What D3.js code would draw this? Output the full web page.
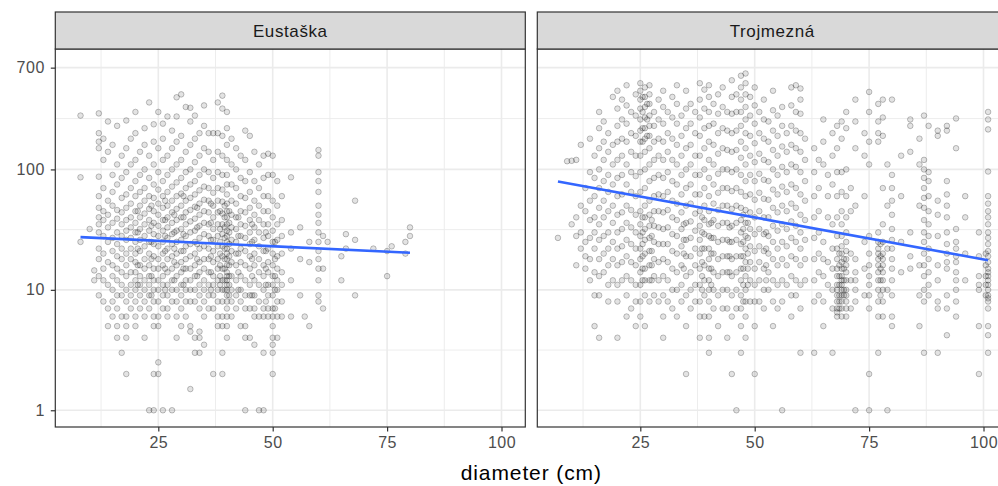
<!DOCTYPE html>
<html>
<head>
<meta charset="utf-8">
<script src="https://cdn.jsdelivr.net/npm/d3@7"></script>
<style>
  html, body { margin: 0; padding: 0; background: #ffffff; overflow: hidden; }
  svg { display: block; font-family: "Liberation Sans", Arial, sans-serif; }
</style>
</head>
<body>
<svg id="chart" width="998" height="486"></svg>
<script>
// ---------- DATA ----------
const panelNames = ["Eustaška", "Trojmezná"];
const xTickValues = [25, 50, 75, 100];
const yTickValues = [1, 10, 100, 700];
const xAxisTitle = "diameter (cm)";

// Eustaška: [diameter, [values...]]
const eustaskaCols = [
  [8, [280, 86, 25]],
  [10, [32]],
  [11, [14.5, 12]],
  [12, [292, 200, 170, 150, 87, 60, 48, 40, 35, 30, 22, 18, 13, 9]],
  [13, [180, 120, 70, 45, 38, 28, 20, 15, 12, 8]],
  [14, [250, 140, 55, 42, 33, 25, 17, 11, 7, 5]],
  [15, [160, 90, 65, 50, 36, 27, 21, 16, 13, 10, 8, 6]],
  [16, [230, 110, 75, 46, 39, 30, 24, 19, 15, 12, 9, 7, 4, 5]],
  [17, [130, 85, 58, 44, 35, 28, 22, 18, 14, 11, 9, 3, 6]],
  [18, [255, 150, 95, 62, 48, 38, 31, 26, 20, 16, 13, 10, 8, 6, 5, 4, 2]],
  [19, [180, 110, 70, 52, 40, 33, 27, 22, 18, 14, 11, 9, 7]],
  [20, [300, 200, 120, 80, 60, 45, 36, 30, 25, 20, 17, 14, 12, 10, 8, 6, 5]],
  [20.5, [45, 30, 22, 16, 11]],
  [21, [140, 90, 65, 50, 40, 32, 26, 21, 16, 13, 11, 9, 7]],
  [22, [220, 160, 100, 70, 55, 43, 35, 28, 23, 18, 15, 12, 10, 8, 4, 6]],
  [23, [360, 130, 85, 60, 47, 38, 31, 25, 20, 16, 13, 11, 9, 7, 1]],
  [23.5, [50, 34, 25, 18, 13, 9]],
  [24, [237, 170, 110, 75, 58, 45, 36, 29, 24, 19, 15, 12, 10, 8, 6, 5, 2, 1]],
  [25, [300, 150, 95, 68, 52, 42, 34, 28, 23, 18, 15, 12, 10, 8, 6, 5, 2.5, 2]],
  [26, [240, 180, 120, 80, 60, 48, 38, 31, 25, 20, 16, 13, 11, 9, 7, 1]],
  [26.5, [55, 38, 28, 21, 15, 10]],
  [27, [275, 130, 90, 65, 50, 40, 33, 27, 22, 18, 14, 11, 9, 7, 6]],
  [28, [210, 150, 100, 72, 55, 44, 36, 29, 24, 19, 15, 12, 10, 8, 1]],
  [28.5, [42, 30, 22, 17, 12]],
  [29, [397, 275, 170, 110, 78, 60, 47, 38, 31, 25, 20, 16, 13, 10, 8, 6, 4]],
  [30, [420, 190, 120, 85, 63, 50, 40, 32, 26, 21, 17, 14, 11, 9, 7, 5]],
  [30.5, [60, 40, 29, 21, 15, 11]],
  [31, [330, 140, 95, 70, 55, 44, 35, 28, 23, 18, 15, 12, 10, 8, 6]],
  [32, [325, 250, 160, 100, 75, 58, 46, 37, 30, 24, 19, 15, 12, 10, 8, 5, 4.5, 1.5]],
  [33, [280, 180, 115, 80, 62, 49, 39, 31, 25, 20, 16, 13, 10, 8, 4, 3]],
  [33.5, [48, 33, 24, 18, 13]],
  [34, [200, 130, 90, 67, 52, 42, 34, 27, 22, 17, 14, 11, 9, 7, 4, 4.5, 3]],
  [35, [340, 230, 150, 100, 72, 56, 45, 36, 29, 23, 18, 15, 12, 10, 8, 6, 3.5]],
  [36, [200, 140, 95, 70, 55, 44, 35, 28, 22, 18, 14, 11, 9, 7]],
  [36.5, [52, 36, 26, 19, 14, 10]],
  [37, [200, 120, 85, 64, 50, 40, 32, 26, 21, 17, 13, 11, 9, 7, 2]],
  [38, [360, 200, 140, 95, 70, 55, 44, 35, 28, 23, 18, 15, 12, 10, 8, 6, 5]],
  [38.5, [45, 32, 25, 20, 16, 13, 11]],
  [39, [410, 320, 190, 130, 90, 68, 54, 43, 35, 29, 23, 19, 15, 12, 10, 8, 6, 5, 3, 2]],
  [39.5, [50, 40, 33, 27, 22, 18, 15, 12, 10]],
  [40, [300, 220, 160, 120, 90, 75, 62, 52, 45, 40, 35, 31, 28, 25, 22, 20, 18, 16, 14, 13, 12, 11, 10, 9, 8, 7, 6, 5, 4]],
  [40.5, [45, 36, 30, 24, 19, 16, 13, 11, 9]],
  [41, [180, 110, 75, 55, 42, 33, 26, 21, 17, 13, 10, 8, 6]],
  [42, [150, 100, 70, 52, 40, 32, 25, 20, 16, 12, 9, 7]],
  [42.5, [40, 28, 20, 14, 10]],
  [43, [130, 85, 60, 45, 35, 28, 22, 17, 13, 10, 8, 5]],
  [44, [210, 120, 80, 58, 44, 34, 27, 21, 16, 12, 9, 7, 5, 4, 1]],
  [45, [190, 95, 65, 48, 38, 30, 24, 19, 15, 11, 9, 7, 4]],
  [45.5, [35, 25, 18, 13, 9]],
  [46, [140, 80, 55, 42, 33, 26, 20, 16, 12, 9, 7, 6, 3.5]],
  [47, [110, 70, 50, 38, 30, 23, 18, 14, 11, 8, 6, 1]],
  [48, [130, 85, 60, 45, 35, 27, 21, 16, 13, 10, 7, 6, 3, 1]],
  [48.5, [30, 21, 15, 11, 8]],
  [49, [135, 90, 60, 45, 35, 28, 22, 17, 14, 11, 9, 7, 6]],
  [50, [130, 90, 55, 40, 31, 25, 20, 16, 13, 11, 9, 7, 6, 5, 3.5, 3, 2, 4]],
  [50.5, [25, 18, 13, 10, 7]],
  [51, [80, 50, 35, 26, 19, 15, 12, 10, 8, 6, 4]],
  [52, [60, 38, 28, 20, 14, 11, 8, 6]],
  [54, [86, 30, 22, 12, 6]],
  [56, [33, 18, 9]],
  [57, [6]],
  [58, [25, 17, 5]],
  [60, [145, 130, 95, 80, 65, 50, 42, 36, 30, 25, 21, 18, 15, 12, 9, 8]],
  [61, [28, 15, 7]],
  [62, [25]],
  [65, [19, 12]],
  [66, [29, 22]],
  [68, [55, 26, 9]],
  [72, [22]],
  [75, [21, 13]],
  [76, [23]],
  [79, [25, 20]],
  [80, [33, 28]]
];

// Trojmezná: [diameter, [values...]]
const trojmeznaCols = [
  [7, [27]],
  [9, [117]],
  [10, [118, 35]],
  [11, [120, 40, 28, 16]],
  [12, [160, 50, 30, 22]],
  [13, [70, 45, 25, 19, 15]],
  [14, [180, 95, 55, 38, 27, 18, 12]],
  [15, [130, 85, 60, 40, 30, 22, 14, 9, 5]],
  [16, [300, 220, 150, 100, 70, 48, 35, 26, 18, 13, 9, 4]],
  [17, [250, 170, 120, 80, 55, 40, 28, 20, 14]],
  [18, [200, 140, 90, 65, 45, 30, 22, 16, 11, 8]],
  [19, [400, 160, 110, 75, 50, 36, 25, 18, 12]],
  [20, [450, 320, 230, 170, 120, 85, 60, 42, 30, 22, 16, 11, 8, 4]],
  [21, [380, 260, 180, 130, 90, 62, 44, 32, 23, 17, 12]],
  [22, [500, 340, 240, 170, 110, 75, 50, 36, 26, 19, 13, 9, 6]],
  [23, [300, 200, 140, 95, 65, 46, 33, 24, 17, 12, 7]],
  [24, [420, 280, 190, 130, 88, 60, 42, 30, 22, 16, 11, 8, 5]],
  [25, [520, 450, 380, 320, 260, 210, 170, 130, 95, 65, 45, 35, 28, 22, 18, 14, 11, 8, 6]],
  [25.5, [400, 300, 220, 170, 40, 30, 24, 19, 15, 12]],
  [26, [480, 400, 330, 270, 220, 180, 140, 100, 70, 50, 40, 32, 26, 20, 15, 12, 9, 5]],
  [26.5, [350, 260, 190]],
  [27, [500, 420, 350, 280, 230, 190, 150, 110, 80, 55, 42, 34, 27, 21, 16, 12, 8]],
  [27.5, [38, 28, 21, 16, 12]],
  [28, [300, 230, 170, 120, 85, 60, 45, 34, 25, 18, 13, 9]],
  [29, [380, 260, 180, 130, 90, 62, 45, 33, 24, 17, 12, 8]],
  [30, [450, 330, 240, 170, 120, 85, 60, 44, 32, 24, 18, 13, 9, 6, 4]],
  [31, [300, 200, 140, 95, 65, 46, 33, 24, 17, 12, 8]],
  [32, [400, 270, 180, 120, 80, 55, 40, 29, 21, 15, 10, 7]],
  [33, [500, 350, 240, 160, 110, 75, 52, 38, 28, 20, 14, 10, 6]],
  [34, [280, 190, 130, 90, 62, 44, 32, 23, 16, 11, 8]],
  [34.5, [35, 26, 20, 15]],
  [35, [450, 320, 220, 150, 100, 70, 50, 36, 26, 19, 13, 9, 5, 2]],
  [36, [350, 240, 160, 110, 75, 52, 37, 27, 19, 14, 10, 7]],
  [37, [300, 200, 130, 90, 62, 43, 31, 22, 16, 11, 8]],
  [38, [520, 380, 270, 190, 130, 90, 62, 45, 34, 26, 20, 15, 11, 8, 6, 4]],
  [38.5, [40, 30, 22, 17, 13, 10]],
  [39, [460, 320, 220, 150, 100, 70, 50, 38, 29, 22, 16, 12, 9, 6]],
  [40, [500, 400, 300, 230, 170, 120, 85, 60, 45, 35, 28, 22, 18, 15, 12, 10, 8, 6, 4, 3]],
  [40.5, [36, 27, 20, 15, 11]],
  [41, [350, 240, 160, 110, 75, 52, 38, 27, 20, 14, 10, 7]],
  [42, [420, 290, 200, 135, 92, 64, 46, 34, 25, 18, 13, 9, 5]],
  [43, [480, 330, 220, 150, 100, 70, 50, 36, 26, 19, 14, 10, 7]],
  [44, [300, 210, 145, 100, 70, 50, 36, 26, 19, 14, 10, 7, 4]],
  [44.5, [33, 25, 19, 14]],
  [45, [550, 400, 290, 200, 140, 95, 66, 47, 34, 25, 18, 13, 9, 6, 2]],
  [46, [420, 300, 210, 145, 100, 70, 50, 36, 26, 19, 14, 10, 7, 1]],
  [47, [600, 480, 380, 300, 230, 170, 125, 90, 65, 48, 38, 30, 24, 19, 15, 12, 9, 7, 5, 3]],
  [47.5, [42, 32, 25, 19, 15, 11, 8]],
  [48, [626, 520, 420, 330, 260, 200, 150, 110, 80, 60, 46, 36, 28, 22, 17, 13, 10, 8, 6, 4]],
  [48.5, [36, 27, 20, 15, 11]],
  [49, [400, 280, 190, 130, 90, 62, 44, 32, 23, 17, 12, 8]],
  [50, [480, 340, 240, 165, 115, 80, 56, 40, 29, 21, 15, 11, 8, 5, 2]],
  [51, [300, 200, 135, 92, 64, 45, 32, 23, 17, 12, 8]],
  [52, [380, 260, 180, 120, 82, 57, 40, 29, 21, 15, 10, 7]],
  [52.5, [30, 22, 16, 12]],
  [53, [250, 170, 115, 80, 56, 40, 28, 20, 14, 10]],
  [54, [450, 310, 210, 145, 100, 68, 48, 34, 25, 18, 12, 8, 5]],
  [55, [280, 190, 130, 90, 62, 44, 31, 22, 16, 11, 7]],
  [56, [330, 230, 155, 105, 72, 50, 35, 25, 18, 12, 8, 1]],
  [57, [200, 140, 95, 65, 45, 32, 23, 16, 11]],
  [58, [480, 340, 230, 160, 110, 75, 52, 37, 27, 19, 13, 9, 6]],
  [59, [500, 300, 210, 150, 105, 70, 48, 34, 25, 18, 12, 9]],
  [60, [470, 380, 290, 200, 140, 95, 62, 42, 30, 22, 16, 11, 7, 3]],
  [61, [180, 120, 80, 55, 38, 26, 18, 12]],
  [63, [150, 95, 60, 40, 27, 18, 12, 8, 3]],
  [64, [120, 70, 45, 30, 20, 14, 9]],
  [65, [260, 170, 110, 25, 18, 13, 8, 5]],
  [66, [90, 60, 40, 17, 11]],
  [67, [200, 130, 75, 35, 22, 15, 10, 7, 3]],
  [68, [230, 150, 95, 60, 40, 28, 22, 18, 15, 13, 11, 10, 9, 8, 7, 6.5, 6]],
  [68.5, [20, 16, 13, 11, 9, 8, 7]],
  [69, [250, 180, 95, 65, 45, 35, 28, 23, 20, 17, 15, 13, 12, 11, 10, 9, 8, 7, 6]],
  [69.5, [18, 15, 12, 10, 9]],
  [70, [300, 220, 100, 60, 40, 30, 25, 21, 18, 16, 14, 12, 10, 9, 8, 7, 6]],
  [71, [70, 45, 20, 12, 7]],
  [72, [380, 250, 150, 50, 18, 14, 12, 10, 8, 1]],
  [74, [200, 130, 60, 25, 15, 9]],
  [75, [440, 300, 170, 110, 28, 20, 16, 13, 11, 9, 7, 2, 1]],
  [77, [350, 250, 200, 170, 30, 25, 22, 20, 18, 16, 14, 12, 10, 8, 6, 3]],
  [77.5, [24, 19, 15, 12, 9]],
  [78, [380, 270, 190, 70, 35, 25, 20, 18, 16, 14, 12, 10, 8, 6]],
  [79, [110, 50, 22, 10, 1]],
  [80, [380, 90, 70, 55, 42, 32, 26, 22, 18, 15, 12, 9, 6, 5]],
  [82, [130, 60, 25, 14]],
  [84, [260, 230, 140, 30, 19, 15]],
  [86, [180, 110, 50, 16, 9, 5]],
  [87, [280, 120, 100, 85, 70, 58, 48, 38, 30, 25, 20, 16, 13, 10, 8, 3]],
  [88, [230, 95, 80, 60, 45, 35, 28, 22, 18, 14, 11, 9]],
  [90, [210, 190, 55, 42, 28, 16, 12, 8, 7, 3]],
  [92, [230, 210, 80, 62, 50, 40, 30, 24, 20, 17, 15, 9, 7, 4.2]],
  [94, [265, 150, 32, 25, 22, 19, 17, 14, 12, 10, 8, 6]],
  [96, [60, 40, 20, 12]],
  [99, [30, 19, 13, 11, 10, 5, 2]],
  [100.5, [20, 16, 13, 11, 9]],
  [101, [300, 260, 215, 96, 60, 52, 45, 40, 35, 30, 27, 24, 21, 19, 17, 15, 14, 13, 12, 11, 10, 9, 8.5, 8, 7, 5, 4.2, 3]]
];

// Fitted (lm on log scale) line end points
const eustaskaFit = [[8, 27.4], [80, 20.3]];
const trojmeznaFit = [[7, 79.5], [101, 17.6]];

// ---------- LAYOUT ----------
const svg = d3.select("#chart");
const panelW = 470;
const panelLefts = [55.3, 537.3];
const panelTop = 49, panelBottom = 427;
const stripTop = 12;

const xDomain = [2.49, 105.2];
const yDomain = [Math.pow(10, -0.139), Math.pow(10, 3.0)];

const panelsData = [
  { name: panelNames[0], cols: eustaskaCols, fit: eustaskaFit },
  { name: panelNames[1], cols: trojmeznaCols, fit: trojmeznaFit }
];

const y = d3.scaleLog().domain(yDomain).range([panelBottom, panelTop]);
const yMinor = [0.5, 1.5, (2 + Math.log10(700)) / 2].map(v => Math.pow(10, v));
const xMinor = [12.5, 37.5, 62.5, 87.5];

const defs = svg.append("defs");

panelsData.forEach((p, i) => {
  const left = panelLefts[i];
  const x = d3.scaleLinear().domain(xDomain).range([left, left + panelW]);
  const g = svg.append("g");

  defs.append("clipPath").attr("id", "clip" + i)
    .append("rect").attr("x", left).attr("y", panelTop).attr("width", panelW).attr("height", panelBottom - panelTop);

  g.append("rect").attr("x", left).attr("y", panelTop).attr("width", panelW)
    .attr("height", panelBottom - panelTop).attr("fill", "#ffffff");

  const grid = g.append("g").attr("clip-path", `url(#clip${i})`);
  grid.selectAll(".ymin").data(yMinor).enter().append("line")
    .attr("x1", left).attr("x2", left + panelW)
    .attr("y1", d => y(d)).attr("y2", d => y(d))
    .attr("stroke", "#EBEBEB").attr("stroke-width", 0.9);
  grid.selectAll(".xmin").data(xMinor).enter().append("line")
    .attr("y1", panelTop).attr("y2", panelBottom)
    .attr("x1", d => x(d)).attr("x2", d => x(d))
    .attr("stroke", "#EBEBEB").attr("stroke-width", 0.9);
  grid.selectAll(".ymaj").data(yTickValues).enter().append("line")
    .attr("x1", left).attr("x2", left + panelW)
    .attr("y1", d => y(d)).attr("y2", d => y(d))
    .attr("stroke", "#EBEBEB").attr("stroke-width", 1.6);
  grid.selectAll(".xmaj").data(xTickValues).enter().append("line")
    .attr("y1", panelTop).attr("y2", panelBottom)
    .attr("x1", d => x(d)).attr("x2", d => x(d))
    .attr("stroke", "#EBEBEB").attr("stroke-width", 1.6);

  const pts = [];
  p.cols.forEach(([dx, ys]) => ys.forEach(v => pts.push([dx, v])));
  grid.selectAll("circle").data(pts).enter().append("circle")
    .attr("cx", d => x(d[0])).attr("cy", d => y(d[1])).attr("r", 2.8)
    .attr("fill", "rgba(0,0,0,0.11)")
    .attr("stroke", "rgba(0,0,0,0.24)").attr("stroke-width", 1);

  const line = d3.line().x(d => x(d[0])).y(d => y(d[1]));
  grid.append("path").datum(p.fit).attr("d", line)
    .attr("fill", "none").attr("stroke", "#3366FF").attr("stroke-width", 2.6);

  g.append("rect").attr("x", left).attr("y", panelTop).attr("width", panelW)
    .attr("height", panelBottom - panelTop).attr("fill", "none")
    .attr("stroke", "#333333").attr("stroke-width", 1.2);

  g.append("rect").attr("x", left).attr("y", stripTop).attr("width", panelW)
    .attr("height", panelTop - stripTop).attr("fill", "#D9D9D9")
    .attr("stroke", "#333333").attr("stroke-width", 1.2);
  g.append("text").attr("x", left + panelW / 2).attr("y", (stripTop + panelTop) / 2 + 6)
    .attr("text-anchor", "middle").attr("fill", "#1A1A1A")
    .attr("font-size", "17px").attr("letter-spacing", "0.6px").text(p.name);

  const xAxis = d3.axisBottom(x).tickValues(xTickValues).tickSize(4.5).tickPadding(5)
    .tickFormat(d3.format("d"));
  const xa = g.append("g").attr("transform", `translate(0,${panelBottom})`).call(xAxis);
  xa.select(".domain").remove();
  xa.selectAll(".tick line").attr("stroke", "#333333").attr("stroke-width", 1.2);
  xa.selectAll(".tick text").attr("fill", "#4D4D4D").attr("font-size", "16px")
    .attr("font-family", "Liberation Sans, Arial, sans-serif").attr("letter-spacing", "0.5px");
});

const yAxis = d3.axisLeft(y).tickValues(yTickValues).tickSize(4.5).tickPadding(6)
  .tickFormat(d3.format("d"));
const ya = svg.append("g").attr("transform", `translate(${panelLefts[0]},0)`).call(yAxis);
ya.select(".domain").remove();
ya.selectAll(".tick line").attr("stroke", "#333333").attr("stroke-width", 1.2);
ya.selectAll(".tick text").attr("fill", "#4D4D4D").attr("font-size", "16px")
  .attr("font-family", "Liberation Sans, Arial, sans-serif").attr("letter-spacing", "0.5px");

svg.append("text").attr("x", panelLefts[0] + (panelLefts[1] + panelW - panelLefts[0]) / 2)
  .attr("y", 480).attr("text-anchor", "middle").attr("fill", "#000000")
  .attr("font-size", "21px").attr("letter-spacing", "0.9px").text(xAxisTitle);
</script>
</body>
</html>
